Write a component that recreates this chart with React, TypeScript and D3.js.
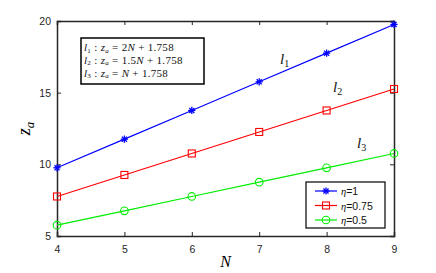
import * as d3 from 'd3';
import React, { useEffect, useRef } from 'react';

const nValues = [4, 5, 6, 7, 8, 9];
const eta1 = [9.758, 11.758, 13.758, 15.758, 17.758, 19.758];
const eta075 = [7.758, 9.258, 10.758, 12.258, 13.758, 15.258];
const eta05 = [5.758, 6.758, 7.758, 8.758, 9.758, 10.758];
const seriesNames = ['\u03B7=1', '\u03B7=0.75', '\u03B7=0.5'];
const seriesColors = ['#0000ff', '#ff0000', '#00ee00'];
const xTicks = [4, 5, 6, 7, 8, 9];
const yTicks = [5, 10, 15, 20];

const W = 436;
const H = 273;
const margin = { top: 21, right: 42, bottom: 37, left: 57 };

const App: React.FC = () => {
  const ref = useRef<SVGSVGElement | null>(null);

  useEffect(() => {
    const svg = d3.select(ref.current);
    svg.selectAll('*').remove();
    const iw = W - margin.left - margin.right;
    const ih = H - margin.top - margin.bottom;
    const x = d3.scaleLinear().domain([4, 9]).range([0, iw]);
    const y = d3.scaleLinear().domain([5, 20]).range([ih, 0]);
    const g = svg.append('g').attr('transform', `translate(${margin.left},${margin.top})`);
    const axisColor = '#262626';
    const tickFont = 'Liberation Sans, Arial, sans-serif';

    // axes with inward ticks
    const bottom = g.append('g').attr('transform', `translate(0,${ih})`)
      .call(d3.axisBottom(x).tickValues(xTicks).tickSize(-4).tickPadding(10).tickFormat(d3.format('d')));
    const left = g.append('g')
      .call(d3.axisLeft(y).tickValues(yTicks).tickSize(-4).tickPadding(6).tickFormat(d3.format('d')));
    const top = g.append('g')
      .call(d3.axisTop(x).tickValues(xTicks).tickSize(-4).tickFormat(() => ''));
    const right = g.append('g').attr('transform', `translate(${iw},0)`)
      .call(d3.axisRight(y).tickValues(yTicks).tickSize(-4).tickFormat(() => ''));
    [bottom, left, top, right].forEach(a => {
      a.select('.domain').attr('stroke', axisColor).attr('stroke-width', 1.5);
      a.selectAll('.tick line').attr('stroke', axisColor);
      a.selectAll('.tick text').attr('fill', axisColor).style('font-family', tickFont).style('font-size', '10.5px');
    });

    const allSeries = [eta1, eta075, eta05];
    const line = d3.line<number>().x((_, i) => x(nValues[i])).y(d => y(d));

    const drawMarker = (sel: d3.Selection<SVGGElement, unknown, null, undefined>, k: number, cx: number, cy: number, color: string) => {
      if (k === 0) {
        const r = 3.6;
        for (let a = 0; a < 4; a++) {
          const ang = (a * Math.PI) / 4;
          sel.append('line')
            .attr('x1', cx - r * Math.cos(ang)).attr('y1', cy - r * Math.sin(ang))
            .attr('x2', cx + r * Math.cos(ang)).attr('y2', cy + r * Math.sin(ang))
            .attr('stroke', color).attr('stroke-width', 1.3);
        }
      } else if (k === 1) {
        sel.append('rect').attr('x', cx - 3.5).attr('y', cy - 3.5).attr('width', 7).attr('height', 7)
          .attr('fill', 'none').attr('stroke', color).attr('stroke-width', 1.1);
      } else {
        sel.append('circle').attr('cx', cx).attr('cy', cy).attr('r', 3.8)
          .attr('fill', 'none').attr('stroke', color).attr('stroke-width', 1.1);
      }
    };

    allSeries.forEach((s, k) => {
      const sg = g.append('g');
      sg.append('path').datum(s).attr('d', line).attr('fill', 'none')
        .attr('stroke', seriesColors[k]).attr('stroke-width', 1.2);
      s.forEach((v, i) => drawMarker(sg, k, x(nValues[i]), y(v), seriesColors[k]));
    });

    // axis labels
    svg.append('text').attr('x', margin.left + iw / 2).attr('y', 267)
      .attr('text-anchor', 'middle').style('font-family', 'Liberation Serif, serif')
      .style('font-style', 'italic').style('font-size', '16px').text('N');
    const yl = svg.append('text').attr('transform', `translate(30,${margin.top + ih / 2}) rotate(-90)`)
      .attr('text-anchor', 'middle').style('font-family', 'Liberation Serif, serif')
      .style('font-style', 'italic').style('font-size', '18px');
    yl.append('tspan').text('z');
    yl.append('tspan').attr('dy', 4).style('font-size', '13px').text('a');

    // equation box
    const eqs = [['1', '2N'], ['2', '1.5N'], ['3', 'N']];
    const bx = 81, by = 38;
    svg.append('rect').attr('x', bx).attr('y', by).attr('width', 123).attr('height', 46)
      .attr('fill', 'white').attr('stroke', '#000').attr('stroke-width', 1.5);
    eqs.forEach((e, i) => {
      const t = svg.append('text').attr('x', bx + 3).attr('y', by + 13 + i * 12.8)
        .style('font-family', 'Liberation Serif, serif').style('font-size', '11px')
        .style('letter-spacing', '0.3px').attr('fill', '#111');
      t.append('tspan').style('font-style', 'italic').text('l');
      t.append('tspan').attr('dy', 1.5).style('font-size', '7px').text(e[0]);
      t.append('tspan').attr('dy', -1.5).text(' : ');
      t.append('tspan').style('font-style', 'italic').text('z');
      t.append('tspan').attr('dy', 1.5).style('font-size', '7px').style('font-style', 'italic').text('a');
      t.append('tspan').attr('dy', -1.5).text(' = ');
      const m = e[1].match(/^([\d.]*)N$/);
      t.append('tspan').text(m ? m[1] : '');
      t.append('tspan').style('font-style', 'italic').text('N');
      t.append('tspan').text(' + 1.758');
    });

    // line labels
    const lineLabels = [
      { sub: '1', px: 280, py: 64 },
      { sub: '2', px: 333, py: 92 },
      { sub: '3', px: 357, py: 148 },
    ];
    lineLabels.forEach(l => {
      const t = svg.append('text').attr('x', l.px).attr('y', l.py)
        .style('font-family', 'Liberation Serif, serif').style('font-size', '15px').attr('fill', '#111');
      t.append('tspan').style('font-style', 'italic').text('l');
      t.append('tspan').attr('dy', 3).style('font-size', '10px').text(l.sub);
    });

    // legend
    const lx = 306, ly = 182;
    svg.append('rect').attr('x', lx).attr('y', ly).attr('width', 79).attr('height', 46)
      .attr('fill', 'white').attr('stroke', '#000').attr('stroke-width', 1.2);
    seriesNames.forEach((name, k) => {
      const yy = ly + 9 + k * 14.5;
      const lg = svg.append('g');
      lg.append('line').attr('x1', lx + 9).attr('x2', lx + 31).attr('y1', yy).attr('y2', yy)
        .attr('stroke', seriesColors[k]).attr('stroke-width', 1.2);
      drawMarker(lg, k, lx + 20, yy, seriesColors[k]);
      const t = svg.append('text').attr('x', lx + 35).attr('y', yy + 4)
        .style('font-family', 'Liberation Sans, Arial, sans-serif').style('font-size', '10.5px').attr('fill', '#111');
      t.append('tspan').style('font-family', 'Liberation Serif, serif').style('font-style', 'italic').text('\u03B7');
      t.append('tspan').text(name.slice(1));
    });
  }, []);

  return <svg ref={ref} width={W} height={H} style={{ position: 'absolute', left: 0, top: 0 }} />;
};

export default App;
